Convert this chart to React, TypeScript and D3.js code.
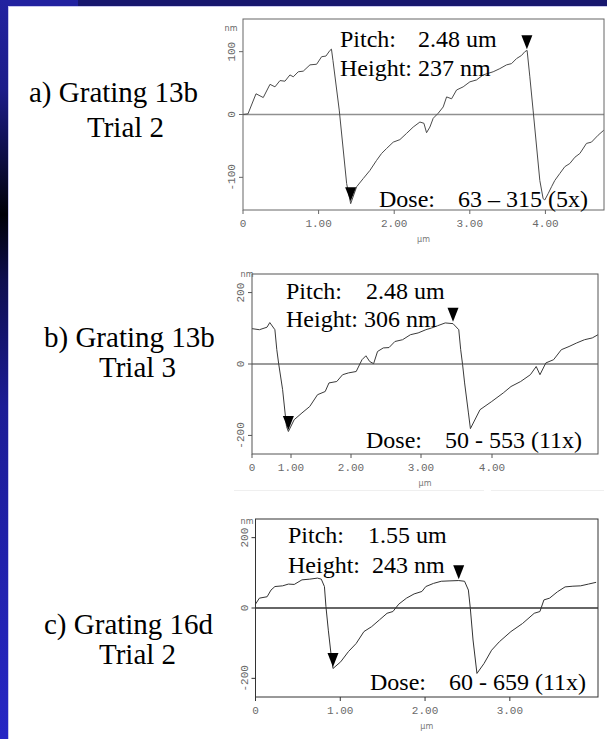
import React from "react";
import * as d3 from "d3";

const W = 607;
const H = 739;

// ---------- Panel a: Grating 13b, Trial 2 ----------
const aX = [0, 0.066, 0.172, 0.268, 0.357, 0.423, 0.489, 0.555, 0.621, 0.665, 0.731, 0.797, 0.886, 0.974, 1.04, 1.097, 1.15, 1.17, 1.19, 1.273, 1.371, 1.424, 1.503, 1.59, 1.679, 1.767, 1.833, 1.9, 1.987, 2.075, 2.164, 2.251, 2.34, 2.393, 2.428, 2.472, 2.516, 2.582, 2.648, 2.693, 2.759, 2.825, 2.912, 3.001, 3.089, 3.176, 3.309, 3.397, 3.486, 3.552, 3.618, 3.684, 3.728, 3.758, 3.794, 3.837, 3.926, 3.97, 3.992, 4.036, 4.081, 4.124, 4.19, 4.257, 4.323, 4.39, 4.456, 4.543, 4.609, 4.697, 4.772];
const aY = [0, 1, 33, 27, 48, 44, 54, 53, 63, 60, 68, 69, 79, 80, 92, 93, 102, 104, 86, 7, -110, -142, -115, -102, -89, -73, -62, -54, -44, -40, -30, -20, -12, -14, -29, -20, -6, 2, 12, 28, 25, 39, 44, 52, 55, 63, 68, 73, 79, 81, 89, 94, 100, 102, 60, 7, -105, -134, -136, -126, -115, -105, -94, -83, -78, -68, -62, -46, -44, -33, -25];
const aMarkX = [1.424, 3.755];
const aMarkY = [-138, 104];
const aXTicks = [0, 1, 2, 3, 4];
const aYTicks = [-100, 0, 100];

// ---------- Panel b: Grating 13b, Trial 3 ----------
const bX = [0, 0.19, 0.385, 0.456, 0.587, 0.636, 0.685, 0.785, 0.885, 0.933, 1.053, 1.183, 1.312, 1.442, 1.57, 1.633, 1.763, 1.86, 1.957, 2.074, 2.157, 2.213, 2.267, 2.323, 2.379, 2.461, 2.543, 2.627, 2.737, 2.849, 2.959, 3.069, 3.151, 3.232, 3.341, 3.451, 3.532, 3.559, 3.586, 3.614, 3.668, 3.696, 3.831, 3.996, 4.159, 4.268, 4.404, 4.541, 4.623, 4.676, 4.759, 4.868, 4.977, 5.086, 5.194, 5.304, 5.413, 5.494];
const bY = [99, 96, 103, 116, 96, 40, 0, -72, -175, -189, -156, -137, -119, -86, -77, -53, -49, -30, -25, -21, 12, 23, 7, 1, 35, 45, 46, 63, 68, 82, 87, 96, 101, 107, 115, 113, 96, 40, -2, -53, -137, -181, -128, -105, -81, -63, -49, -30, -7, -30, 3, 12, 40, 49, 59, 68, 73, 82];
const bMarkX = [0.933, 3.451];
const bMarkY = [-185, 118];
const bXTicks = [0, 1, 2, 3, 4];
const bYTicks = [-200, 0, 200];

// ---------- Panel c: Grating 16d, Trial 2 ----------
const cX = [0, 0.046, 0.137, 0.183, 0.229, 0.32, 0.388, 0.457, 0.548, 0.64, 0.731, 0.776, 0.813, 0.831, 0.859, 0.89, 0.914, 1.005, 1.096, 1.187, 1.279, 1.37, 1.461, 1.552, 1.621, 1.69, 1.781, 1.871, 1.963, 2.009, 2.1, 2.191, 2.283, 2.397, 2.466, 2.511, 2.534, 2.566, 2.612, 2.695, 2.785, 2.876, 3.013, 3.15, 3.288, 3.355, 3.402, 3.469, 3.561, 3.652, 3.744, 3.835, 3.927, 4.018];
const cY = [11, 28, 32, 51, 61, 63, 68, 67, 80, 82, 85, 82, 61, 4, -63, -129, -172, -153, -124, -101, -67, -53, -34, -15, -10, 11, 28, 40, 47, 61, 70, 76, 77, 78, 76, 51, -1, -91, -186, -158, -120, -96, -67, -44, -15, -10, 23, 28, 46, 60, 62, 63, 68, 73];
const cMarkX = [0.914, 2.397];
const cMarkY = [-168, 82];
const cXTicks = [0, 1, 2, 3];
const cYTicks = [-200, 0, 200];

type PanelSpec = {
  xs: number[]; ys: number[]; mx: number[]; my: number[];
  xTicks: number[]; yTicks: number[];
  xDomain: number[]; xRange: number[]; yDomain: [number, number];
  top: number; bottom: number;
  nm: [number, number];
  zeroColor: string; frameColor: string; curveColor: string;
  label1: string; label2: string; lab1: [number, number]; lab2: [number, number];
  pitchVal: string; heightTxt: string; doseVal: string;
  pitchPos: [number, number, number]; heightPos: [number, number];
  dosePos: [number, number, number];
};

const panels: PanelSpec[] = [
  {
    xs: aX, ys: aY, mx: aMarkX, my: aMarkY, xTicks: aXTicks, yTicks: aYTicks,
    xDomain: [0, 4.775], xRange: [243, 604], yDomain: [-152, 152],
    top: 19, bottom: 210, nm: [231, 31],
    zeroColor: "#909090", frameColor: "#666", curveColor: "#4a4a4a",
    label1: "a) Grating 13b", label2: "Trial 2", lab1: [29, 102], lab2: [87, 137],
    pitchVal: "2.48 um", heightTxt: "Height: 237 nm", doseVal: "63 \u2013 315 (5x)",
    pitchPos: [340, 418, 47], heightPos: [340, 76], dosePos: [379, 458, 207],
  },
  {
    xs: bX, ys: bY, mx: bMarkX, my: bMarkY, xTicks: bXTicks, yTicks: bYTicks,
    xDomain: [0, 1, 2, 3, 4, 5.494], xRange: [252, 291, 351, 421, 492, 598], yDomain: [-252, 252],
    top: 274, bottom: 454, nm: [247, 277],
    zeroColor: "#7a7a7a", frameColor: "#555", curveColor: "#3a3a3a",
    label1: "b) Grating 13b", label2: "Trial 3", lab1: [44, 347], lab2: [99, 377],
    pitchVal: "2.48 um", heightTxt: "Height: 306 nm", doseVal: "50 - 553 (11x)",
    pitchPos: [286, 366, 299], heightPos: [286, 327], dosePos: [366, 445, 448],
  },
  {
    xs: cX, ys: cY, mx: cMarkX, my: cMarkY, xTicks: cXTicks, yTicks: cYTicks,
    xDomain: [0, 4.04], xRange: [255.5, 598], yDomain: [-253, 253],
    top: 519, bottom: 697, nm: [247, 524],
    zeroColor: "#333", frameColor: "#333", curveColor: "#333",
    label1: "c) Grating 16d", label2: "Trial 2", lab1: [44, 634], lab2: [99, 664],
    pitchVal: "1.55 um", heightTxt: "Height:  243 nm", doseVal: "60 - 659 (11x)",
    pitchPos: [288, 368, 543], heightPos: [288, 573], dosePos: [370, 449, 690],
  },
];

const serif = "'Liberation Serif', 'Times New Roman', serif";
const mono = "'Liberation Mono', 'DejaVu Sans Mono', monospace";

function Panel({ p }: { p: PanelSpec }) {
  const x = d3.scaleLinear().domain(p.xDomain).range(p.xRange);
  const y = d3.scaleLinear().domain(p.yDomain).range([p.bottom, p.top]);
  const left = p.xRange[0];
  const right = p.xRange[p.xRange.length - 1];
  const pts: [number, number][] = p.xs.map((v, i) => [v, p.ys[i]]);
  const line = d3.line<[number, number]>().x((d) => x(d[0])).y((d) => y(d[1]));
  const tri = (cx: number, cy: number) => {
    const tx = x(cx), ty = y(cy);
    return `M${tx},${ty} L${tx - 5.5},${ty - 14} L${tx + 5.5},${ty - 14} Z`;
  };
  const fmt = (v: number) => (v === 0 ? "0" : d3.format(".2f")(v));
  return (
    <g>
      <line x1={left} x2={right} y1={y(0)} y2={y(0)} stroke={p.zeroColor} strokeWidth={1.4} />
      <path d={line(pts) || ""} fill="none" stroke={p.curveColor} strokeWidth={1} />
      <rect x={left} y={p.top} width={right - left} height={p.bottom - p.top} fill="none" stroke={p.frameColor} strokeWidth={1} />
      {p.xTicks.map((t) => (
        <g key={"x" + t}>
          <line x1={x(t)} x2={x(t)} y1={p.bottom} y2={p.bottom + 4} stroke={p.frameColor} />
          <text x={x(t)} y={p.bottom + 17} textAnchor="middle" fontFamily={mono} fontSize={11} fill="#6a6a6a">{fmt(t)}</text>
        </g>
      ))}
      <text x={(left + right) / 2} y={p.bottom + 32} textAnchor="middle" fontFamily="'DejaVu Sans', sans-serif" fontSize={8} fill="#777">µm</text>
      {p.yTicks.map((t) => (
        <g key={"y" + t}>
          <line x1={left - 4} x2={left} y1={y(t)} y2={y(t)} stroke={p.frameColor} />
          <text transform={`translate(${left - 8},${y(t)}) rotate(-90)`} textAnchor="middle" fontFamily={mono} fontSize={11} fill="#6a6a6a">{t}</text>
        </g>
      ))}
      <text x={p.nm[0]} y={p.nm[1]} textAnchor="middle" fontFamily="'DejaVu Sans', sans-serif" fontSize={8} fill="#666">nm</text>
      {p.mx.map((m, i) => (
        <path key={"m" + i} d={tri(m, p.my[i])} fill="#000" />
      ))}
      <text fontFamily={serif} fontSize={24} fill="#000">
        <tspan x={p.pitchPos[0]} y={p.pitchPos[2]}>Pitch:</tspan>
        <tspan x={p.pitchPos[1]} y={p.pitchPos[2]}>{p.pitchVal}</tspan>
      </text>
      <text x={p.heightPos[0]} y={p.heightPos[1]} fontFamily={serif} fontSize={24} fill="#000" style={{ whiteSpace: "pre" }}>{p.heightTxt}</text>
      <text fontFamily={serif} fontSize={24} fill="#000">
        <tspan x={p.dosePos[0]} y={p.dosePos[2]}>Dose:</tspan>
        <tspan x={p.dosePos[1]} y={p.dosePos[2]}>{p.doseVal}</tspan>
      </text>
      <text x={p.lab1[0]} y={p.lab1[1]} fontFamily={serif} fontSize={29} fill="#000">{p.label1}</text>
      <text x={p.lab2[0]} y={p.lab2[1]} fontFamily={serif} fontSize={29} fill="#000">{p.label2}</text>
    </g>
  );
}

export default function App() {
  return (
    <svg width={W} height={H} style={{ position: "absolute", left: 0, top: 0, display: "block" }} xmlns="http://www.w3.org/2000/svg">
      <defs>
        <linearGradient id="band" x1="0" y1="0" x2="0" y2="1">
          <stop offset="0" stopColor="#2222a0" />
          <stop offset="0.12" stopColor="#1c1c8a" />
          <stop offset="0.22" stopColor="#0c0c40" />
          <stop offset="0.29" stopColor="#000008" />
          <stop offset="0.38" stopColor="#0e0e50" />
          <stop offset="0.55" stopColor="#1c1c96" />
          <stop offset="0.8" stopColor="#2222b0" />
          <stop offset="1" stopColor="#2626c4" />
        </linearGradient>
      </defs>
      <rect x={0} y={0} width={W} height={H} fill="#fff" />
      <rect x={0} y={0} width={W} height={6} fill="#17176e" />
      <rect x={0} y={0} width={78} height={6} fill="#2222a0" />
      <rect x={0} y={0} width={8} height={H} fill="url(#band)" />
      <line x1={8} x2={W} y1={6.5} y2={6.5} stroke="#c8c8ee" strokeWidth={1} />
      <line x1={8.5} x2={8.5} y1={6} y2={H} stroke="#c8c8ee" strokeWidth={1} />
      <line x1={234} x2={484} y1={490.5} y2={490.5} stroke="#efefef" strokeWidth={1} />
      <line x1={491} x2={604} y1={490.5} y2={490.5} stroke="#efefef" strokeWidth={1} />
      {panels.map((p, i) => (
        <Panel key={i} p={p} />
      ))}
    </svg>
  );
}
